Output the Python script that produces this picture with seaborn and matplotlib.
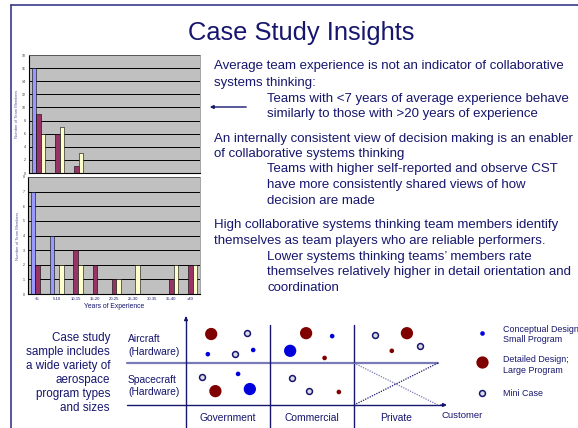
import numpy as np
import pandas as pd
import matplotlib
matplotlib.use('Agg')
import matplotlib.pyplot as plt
import seaborn as sns

sns.set_style('white')
plt.rcParams['font.family'] = ['Liberation Sans', 'DejaVu Sans']

NAVY = '#16166e'

# histogram data (years of experience)
bins = ['<5', '5-10', '10-15', '15-20', '20-25', '25-30', '30-35', '35-40', '>40']
series = ['Group A', 'Group B', 'Group C']
bar_colors = ['#9999ff', '#993366', '#ffffcc']
top_a = [16, 0, 0, 0, 0, 0, 0, 0, 0]
top_b = [9, 6, 1, 0, 0, 0, 0, 0, 0]
top_c = [6, 7, 3, 0, 0, 0, 0, 0, 0]
bot_a = [7, 4, 0, 0, 0, 0, 0, 0, 0]
bot_b = [2, 0, 3, 2, 1, 0, 0, 1, 2]
bot_c = [0, 2, 2, 0, 1, 2, 0, 2, 2]

# case study matrix (x: customer column 0-3, y: program row 0-2)
customers = ['Government', 'Commercial', 'Private']
case_x = [0.30, 0.73, 0.26, 0.58, 0.80,
          1.43, 1.74, 1.24, 1.65,
          2.25, 2.63, 2.79, 2.45,
          0.19, 0.62, 0.35, 0.76,
          1.26, 1.46, 1.82]
case_y = [1.69, 1.71, 1.21, 1.21, 1.31,
          1.71, 1.64, 1.29, 1.12,
          1.67, 1.71, 1.40, 1.29,
          0.67, 0.74, 0.33, 0.38,
          0.64, 0.33, 0.31]
case_kind = ['Detailed', 'Mini', 'Conceptual', 'Mini', 'Conceptual',
             'Detailed', 'Conceptual', 'Conceptual', 'Detailed',
             'Mini', 'Detailed', 'Mini', 'Detailed',
             'Mini', 'Conceptual', 'Detailed', 'Conceptual',
             'Mini', 'Mini', 'Detailed']
case_size = ['Large', 'Small', 'Small', 'Small', 'Small',
             'Large', 'Small', 'Large', 'Small',
             'Small', 'Large', 'Small', 'Small',
             'Small', 'Small', 'Large', 'Large',
             'Small', 'Small', 'Small']

W, H = 578, 428
fig = plt.figure(figsize=(W / 100, H / 100), dpi=100)
fig.patch.set_facecolor('white')


def px_axes(x0, y0, x1, y1):
    return fig.add_axes([x0 / W, 1 - y1 / H, (x1 - x0) / W, (y1 - y0) / H])


def bar_panel(ax, a, b, c, ymax, step, show_x):
    df = pd.DataFrame({'bin': bins * 3,
                       'series': np.repeat(series, len(bins)),
                       'count': a + b + c})
    sns.barplot(data=df, x='bin', y='count', hue='series', order=bins,
                palette=bar_colors, saturation=1, width=0.72,
                edgecolor='black', linewidth=0.4, legend=False, ax=ax)
    ax.set_facecolor('#c0c0c0')
    ax.set_ylim(0, ymax)
    ax.set_xlim(-0.5, len(bins) - 0.5)
    ax.set_yticks(range(0, ymax + 1, step))
    ax.yaxis.grid(True, color='black', lw=0.7)
    ax.set_axisbelow(True)
    ax.tick_params(axis='y', labelsize=2.5, length=1.5, width=0.4, pad=1,
                   colors='#333333')
    ax.set_xticks(np.arange(len(bins) + 1) - 0.5, minor=True)
    ax.tick_params(axis='x', which='minor', length=2, width=0.4, color='black')
    ax.tick_params(axis='x', which='major', length=0, labelsize=3, pad=2,
                   labelcolor=NAVY)
    if not show_x:
        ax.set_xticklabels([])
    for s in ['top', 'right']:
        ax.spines[s].set_color('#808080')
        ax.spines[s].set_linewidth(0.5)
    for s in ['left', 'bottom']:
        ax.spines[s].set_color('black')
        ax.spines[s].set_linewidth(0.8)
    ax.set_ylabel('Number of Team Members', fontsize=3, color='#5a5aa8', labelpad=2)


ax_top = px_axes(29, 55, 200, 173)
bar_panel(ax_top, top_a, top_b, top_c, 18, 2, False)
ax_top.set_xlabel('')

ax_bot = px_axes(28, 177, 200, 294)
bar_panel(ax_bot, bot_a, bot_b, bot_c, 8, 1, True)
ax_bot.set_xlabel('Years of Experience', fontsize=4.9, color=NAVY, labelpad=1)

# matrix of case studies
mx = px_axes(100, 310, 470, 428)
mx.set_xlim((100 - 186) / 84, (470 - 186) / 84)
mx.set_ylim((405 - 428) / 42, (405 - 310) / 42)
mx.axis('off')
line_kw = dict(color=NAVY, lw=1.0)
mx.plot([-0.70, 3.0], [1, 1], color='#7a7ab8', lw=1.6)
mx.plot([-0.70, 3.05], [0, 0], **line_kw)
mx.annotate('', xy=(3.14, 0), xytext=(3.0, 0),
            arrowprops=dict(arrowstyle='-|>', color=NAVY, lw=1.0,
                            mutation_scale=5))
mx.plot([0, 0], [-0.6, 2.05], **line_kw)
mx.annotate('', xy=(0, 2.18), xytext=(0, 2.0),
            arrowprops=dict(arrowstyle='-|>', color=NAVY, lw=1.0,
                            mutation_scale=5))
for xv in [1, 2]:
    mx.plot([xv, xv], [-0.6, 1.9], **line_kw)
mx.plot([2, 3], [1, 0], color='#7a7ab8', lw=0.9, ls=(0, (1, 1)))
mx.plot([2, 3], [0, 1], color=NAVY, lw=0.9, ls=(0, (1, 1)))

cases = pd.DataFrame({'x': case_x, 'y': case_y, 'kind': case_kind, 'size': case_size})
filled = cases[cases['kind'] != 'Mini']
sns.scatterplot(data=filled, x='x', y='y', hue='kind', size='size',
                palette={'Conceptual': '#0000dd', 'Detailed': '#800000'},
                sizes={'Small': 11, 'Large': 78}, linewidth=0,
                legend=False, ax=mx)
sns.scatterplot(data=cases[cases['kind'] == 'Mini'], x='x', y='y', s=18,
                color='#dcdce6', edgecolor=NAVY, linewidth=1.1,
                legend=False, ax=mx)
mx.set_xlabel('')
mx.set_ylabel('')

# overlay in pixel coordinates for text and slide decoration
ov = fig.add_axes([0, 0, 1, 1])
ov.set_xlim(0, W)
ov.set_ylim(H, 0)
ov.axis('off')
ov.patch.set_visible(False)

ov.plot([11, W], [5, 5], color='#3a3a8a', lw=1.2)
ov.plot([11, 11], [5, H], color='#3a3a8a', lw=1.2)

ov.text(301, 40, 'Case Study Insights', fontsize=18.4, color=NAVY,
        ha='center', va='baseline')

body = [
    (214, 69, 'Average team experience is not an indicator of collaborative'),
    (214, 86, 'systems thinking:'),
    (267, 102, 'Teams with <7 years of average experience behave'),
    (267, 117, 'similarly to those with >20 years of experience'),
    (214, 142, 'An internally consistent view of decision making is an enabler'),
    (214, 157, 'of collaborative systems thinking'),
    (267, 172, 'Teams with higher self-reported and observe CST'),
    (267, 188, 'have more consistently shared views of how'),
    (267, 204, 'decision are made'),
    (214, 228, 'High collaborative systems thinking team members identify'),
    (214, 244, 'themselves as team players who are reliable performers.'),
    (267, 260, 'Lower systems thinking teams\u2019 members rate'),
    (267, 275, 'themselves relatively higher in detail orientation and'),
    (267, 291, 'coordination'),
]
for x, y, t in body:
    ov.text(x, y, t, fontsize=9.5, color=NAVY, ha='left', va='baseline')

ov.annotate('', xy=(207, 107), xytext=(249, 107),
            arrowprops=dict(arrowstyle='-|>', color=NAVY, lw=1.0,
                            mutation_scale=5))

left_text = ['Case study', 'sample includes', 'a wide variety of',
             'aerospace', 'program types', 'and sizes']
for i, t in enumerate(left_text):
    ov.text(110, 341 + 14 * i, t, fontsize=8.4, color=NAVY,
            ha='right', va='baseline')

ov.text(128, 342, 'Aircraft', fontsize=7.4, color=NAVY, va='baseline')
ov.text(128, 355, '(Hardware)', fontsize=7.4, color=NAVY, va='baseline')
ov.text(128, 383, 'Spacecraft', fontsize=7.4, color=NAVY, va='baseline')
ov.text(128, 395, '(Hardware)', fontsize=7.4, color=NAVY, va='baseline')

for i, c in enumerate(customers):
    ov.text(186 + 84 * (i + 0.5), 421, c, fontsize=7.4, color=NAVY,
            ha='center', va='baseline')
ov.text(462, 418, 'Customer', fontsize=6.8, color=NAVY, ha='center', va='baseline')

ov.scatter([482], [333], s=11, color='#0000dd', linewidths=0)
ov.scatter([482], [362], s=78, color='#800000', linewidths=0)
ov.scatter([482], [393], s=18, color='#dcdce6', edgecolors=NAVY, linewidths=1.1)
ov.text(503, 332, 'Conceptual Design;', fontsize=6.4, color=NAVY, va='baseline')
ov.text(503, 342, 'Small Program', fontsize=6.4, color=NAVY, va='baseline')
ov.text(503, 362, 'Detailed Design;', fontsize=6.4, color=NAVY, va='baseline')
ov.text(503, 373, 'Large Program', fontsize=6.4, color=NAVY, va='baseline')
ov.text(503, 396, 'Mini Case', fontsize=6.4, color=NAVY, va='baseline')

fig.savefig('out.png', dpi=100)
